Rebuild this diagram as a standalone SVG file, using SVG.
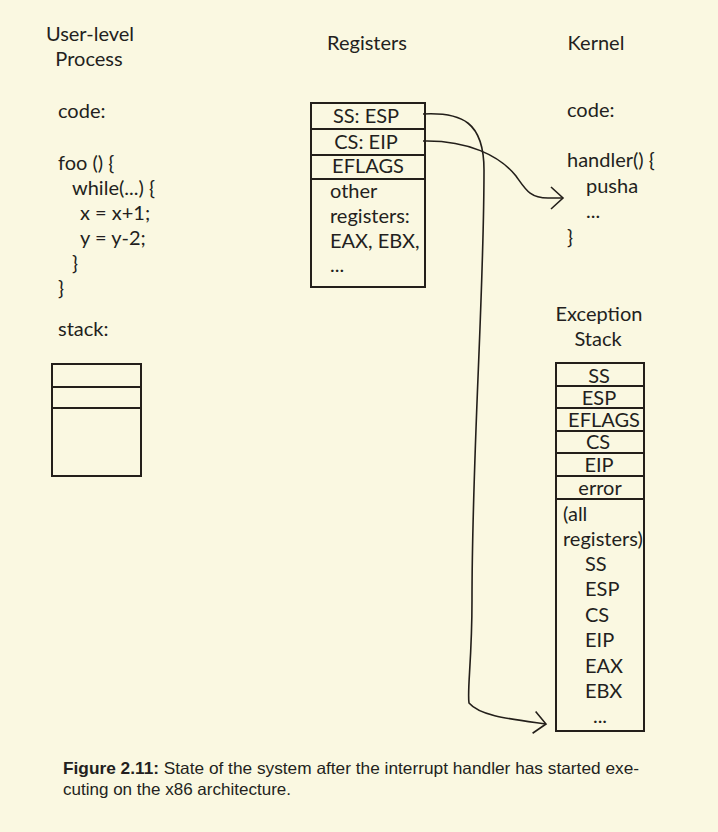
<svg xmlns="http://www.w3.org/2000/svg" width="718" height="832" viewBox="0 0 718 832">
<style>
.t{font-family:Lato,"Liberation Sans",sans-serif;font-size:20px;fill:#231f20}
.c{text-anchor:middle}
.box{fill:none;stroke:#231f1a;stroke-width:2}
.ln{stroke:#231f1a;stroke-width:2}
.conn{fill:none;stroke:#231f1a;stroke-width:1.6}
.cap{font-family:"Liberation Sans",sans-serif;font-size:16.5px;fill:#231f20}
</style>
<defs>
<marker id="chev" markerWidth="16" markerHeight="26" refX="14" refY="13" orient="auto" markerUnits="userSpaceOnUse">
<path d="M2,2 L14,13 L2,24" fill="none" stroke="#231f1a" stroke-width="1.6"/>
</marker>
</defs>
<rect width="718" height="832" fill="#faf8e1"/>

<g id="user-process">
<text class="t c" x="90" y="41">User-level</text>
<text class="t c" x="89" y="66">Process</text>
<text class="t" x="58" y="118">code:</text>
<text class="t" x="58" y="170">foo () {</text>
<text class="t" x="72" y="195">while(...) {</text>
<text class="t" x="80" y="220">x = x+1;</text>
<text class="t" x="80" y="245">y = y-2;</text>
<text class="t" x="72" y="270">}</text>
<text class="t" x="58" y="295">}</text>
<text class="t" x="58" y="336">stack:</text>
</g>

<g id="user-stack">
<rect class="box" x="52" y="364" width="89" height="112"/>
<line class="ln" x1="52" y1="387" x2="141" y2="387"/>
<line class="ln" x1="52" y1="408" x2="141" y2="408"/>
</g>

<g id="registers">
<text class="t c" x="367" y="50">Registers</text>
<rect class="box" x="311" y="103" width="114" height="184"/>
<line class="ln" x1="311" y1="129" x2="425" y2="129"/>
<line class="ln" x1="311" y1="155" x2="425" y2="155"/>
<line class="ln" x1="311" y1="179" x2="425" y2="179"/>
<text class="t c" x="366" y="123">SS: ESP</text>
<text class="t c" x="366" y="149">CS: EIP</text>
<text class="t c" x="368" y="173">EFLAGS</text>
<text class="t" x="330" y="198">other</text>
<text class="t" x="330" y="223">registers:</text>
<text class="t" x="330" y="248">EAX, EBX,</text>
<text class="t" x="330" y="272">...</text>
</g>

<g id="kernel">
<text class="t c" x="596" y="50">Kernel</text>
<text class="t" x="567" y="117">code:</text>
<text class="t" x="567" y="167">handler() {</text>
<text class="t" x="586" y="193">pusha</text>
<text class="t" x="586" y="218">...</text>
<text class="t" x="567" y="244">}</text>
</g>

<g id="exception-stack">
<text class="t c" x="599" y="321">Exception</text>
<text class="t c" x="598" y="346">Stack</text>
<rect class="box" x="556" y="363" width="88" height="368"/>
<line class="ln" x1="556" y1="386" x2="644" y2="386"/>
<line class="ln" x1="556" y1="408" x2="644" y2="408"/>
<line class="ln" x1="556" y1="431" x2="644" y2="431"/>
<line class="ln" x1="556" y1="453" x2="644" y2="453"/>
<line class="ln" x1="556" y1="476" x2="644" y2="476"/>
<line class="ln" x1="556" y1="499" x2="644" y2="499"/>
<text class="t c" x="599" y="383">SS</text>
<text class="t c" x="599" y="405">ESP</text>
<text class="t c" x="604" y="427">EFLAGS</text>
<text class="t c" x="598" y="449">CS</text>
<text class="t c" x="599" y="472">EIP</text>
<text class="t c" x="600" y="495">error</text>
<text class="t" x="563" y="521">(all</text>
<text class="t" x="563" y="546">registers)</text>
<text class="t" x="585" y="571">SS</text>
<text class="t" x="585" y="596">ESP</text>
<text class="t" x="585" y="622">CS</text>
<text class="t" x="585" y="647">EIP</text>
<text class="t" x="585" y="673">EAX</text>
<text class="t" x="585" y="698">EBX</text>
<text class="t c" x="600" y="723">...</text>
</g>

<g id="connectors">
<path class="conn" d="M423,114 C462,112 484,122 484,170 C484,300 472,450 472,600 C472,660 467,690 469,703 C480,716 510,719 546,724" marker-end="url(#chev)"/>
<path class="conn" d="M423,141 C468,140 500,156 516,176 C526,190 530,198 548,198 L563,198" marker-end="url(#chev)"/>
</g>

<g id="caption">
<text class="cap" x="63" y="774" textLength="576" lengthAdjust="spacingAndGlyphs"><tspan font-weight="bold">Figure 2.11:</tspan> State of the system after the interrupt handler has started exe-</text>
<text class="cap" x="63" y="795" textLength="228" lengthAdjust="spacingAndGlyphs">cuting on the x86 architecture.</text>
</g>
</svg>
